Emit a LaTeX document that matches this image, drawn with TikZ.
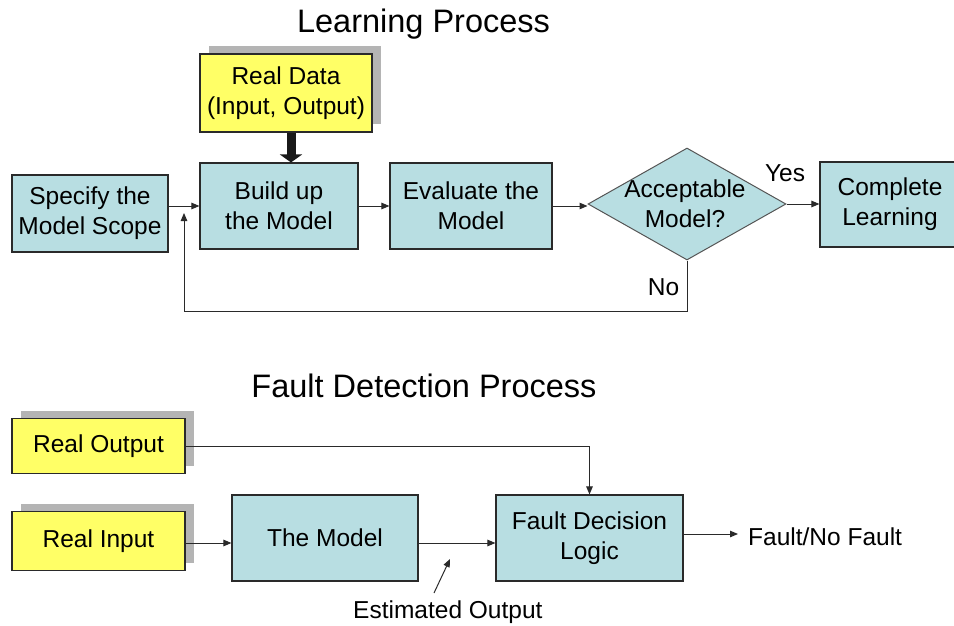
\documentclass[tikz,border=0pt]{standalone}
\usepackage{fontspec}
\setmainfont{Liberation Sans}
\usetikzlibrary{shapes.geometric,arrows.meta,shadows}

\definecolor{boxblue}{HTML}{B8DEE2}
\definecolor{dataylw}{HTML}{FFFF66}
\definecolor{shadowgray}{HTML}{B4B4B4}
\definecolor{edgegray}{HTML}{2A2A2A}

\begin{document}
\begin{tikzpicture}[x=1pt,y=-1pt,
  every node/.style={font=\fontsize{24.5}{30}\selectfont, text=black},
  titletext/.style={font=\fontsize{32.5}{38}\selectfont, anchor=base, inner sep=0pt},
  plaintext/.style={inner sep=0pt},
  proc/.style={draw=edgegray, line width=1.1pt, fill=boxblue, align=center, inner sep=0pt},
  datab/.style={draw=edgegray, line width=1.1pt, fill=dataylw, align=center, inner sep=0pt,
    drop shadow={shadow xshift=9pt, shadow yshift=8pt, fill=shadowgray, opacity=1}},
  decision/.style={diamond, draw=edgegray!80, line width=1pt, fill=boxblue, inner sep=0pt},
  conn/.style={draw=edgegray, line width=1pt, -{Triangle[length=8pt,width=6.5pt]}},
  plainline/.style={draw=edgegray, line width=1pt},
  bigarrow/.style={draw=black!90, line width=9pt, -{Triangle[length=8pt,width=22pt]}}
]
\useasboundingbox (0,0) rectangle (954,626);
\clip (0,0) rectangle (954,626);

% ---------------- Learning process ----------------
\node[titletext] (ltitle) at (423.5,33) {Learning Process};

\node[datab, minimum width=172pt, minimum height=78pt] (data) at (286,93) {Real Data\\(Input, Output)};

\node[proc, minimum width=156pt, minimum height=77pt] (spec) at (90,213.5) {Specify the\\Model Scope};
\node[proc, minimum width=158pt, minimum height=86pt] (build) at (279,206) {Build up\\the Model};
\node[proc, minimum width=162pt, minimum height=86pt] (eval) at (471,206) {Evaluate the\\Model};
\node[decision, minimum width=198pt, minimum height=112pt] (acc) at (687,204) {};
\node[align=center, plaintext] (acctext) at (685,204) {Acceptable\\Model?};
\node[proc, minimum width=140pt, minimum height=85pt] (comp) at (890,204.5) {Complete\\Learning};

\node[plaintext, anchor=base] (yes) at (785,181) {Yes};
\node[plaintext, anchor=base] (no) at (663.5,295) {No};

\coordinate (thick) at (291,0);
\coordinate (fbk) at (184,213);

\draw[bigarrow] (data.south -| thick) -- (build.north -| thick);
\draw[conn] (spec.east |- build.west) -- (build.west);
\draw[conn] (build.east) -- (eval.west);
\draw[conn] (eval.east) -- (eval.east -| acc.west);
\draw[conn] (acc.east) -- (comp.west |- acc.east);
\draw[conn] (acc.south) -- ++(0,51) -| (fbk);

% ---------------- Fault detection process ----------------
\node[titletext] (ftitle) at (424,397) {Fault Detection Process};

\node[datab, minimum width=173pt, minimum height=55pt] (ro) at (98.5,446) {Real Output};
\node[datab, minimum width=173pt, minimum height=59pt] (ri) at (98.5,541) {Real Input};
\node[proc, minimum width=186pt, minimum height=86pt] (model) at (325,538) {The Model};
\node[proc, minimum width=187pt, minimum height=86pt] (fdl) at (589.5,538) {Fault Decision\\Logic};

\node[plaintext, anchor=base west] (fnf) at (748,545) {Fault/No Fault};
\node[plaintext, anchor=base west] (est) at (353,618) {Estimated Output};

\coordinate (row) at (0,543);
\coordinate (outtip) at (738,534);
\coordinate (estTail) at (434,593);
\coordinate (estTip) at (450,559);

\draw[conn] (ro.east) -| (fdl.north);
\draw[conn] (ri.east |- row) -- (model.west |- row);
\draw[conn] (model.east |- row) -- (fdl.west |- row);
\draw[conn] (fdl.east |- outtip) -- (outtip);
\draw[conn] (estTail) -- (estTip);
\end{tikzpicture}
\end{document}
